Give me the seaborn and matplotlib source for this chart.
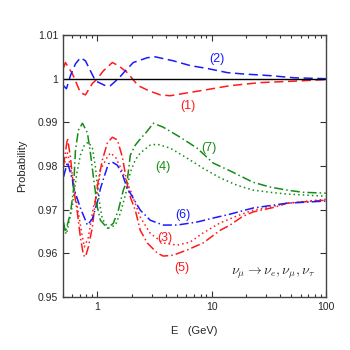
import numpy as np
import pandas as pd
import matplotlib
matplotlib.use('Agg')
import matplotlib.pyplot as plt
import seaborn as sns
from matplotlib.ticker import FuncFormatter, FixedLocator

# curve (1) red dashed
e1 = [0.505, 0.525, 0.605, 0.643, 0.710, 0.786, 0.904, 1.0, 1.128, 1.352, 1.526, 1.828, 2.021, 2.281, 2.789, 3.549, 4.341, 5.637, 9.136, 14.51, 26.52, 59.3, 100]
p1 = [1.0025, 1.0037, 1.0011, 0.9995, 0.9968, 0.9963, 0.9989, 1.0, 1.0018, 1.0037, 1.0030, 1.0014, 1.0, 0.9984, 0.9973, 0.9963, 0.9961, 0.9966, 0.9975, 0.9984, 0.9991, 0.9995, 0.9998]

# curve (2) blue dashed
e2 = [0.505, 0.536, 0.581, 0.643, 0.710, 0.786, 0.869, 0.961, 1.175, 1.299, 1.526, 1.756, 2.063, 2.733, 3.211, 4.611, 6.49, 9.32, 13.66, 18.47, 32.44, 53.6, 100]
p2 = [0.9984, 0.9977, 1.0007, 1.0034, 1.0048, 1.0041, 1.0018, 0.9995, 0.9984, 0.9984, 1.0, 1.0018, 1.0037, 1.0048, 1.0050, 1.0041, 1.0030, 1.0023, 1.0014, 1.0011, 1.0007, 1.0002, 1.0]

# curve (3) red dotted
e3 = [0.505, 0.547, 0.605, 0.669, 0.740, 0.770, 0.834, 0.923, 1.02, 1.062, 1.223, 1.299, 1.436, 1.588, 1.828, 1.942, 2.374, 2.904, 3.771, 4.997, 6.49, 8.43, 11.87, 16.7, 23.04, 32.44, 45.63, 100]
p3 = [0.9798, 0.9830, 0.9775, 0.9706, 0.9637, 0.9615, 0.9637, 0.9706, 0.9752, 0.9791, 0.9821, 0.9830, 0.9821, 0.9798, 0.9761, 0.9745, 0.9683, 0.9646, 0.9624, 0.9619, 0.9626, 0.9647, 0.9670, 0.9686, 0.9699, 0.9706, 0.9715, 0.9724]

# curve (4) green dotted
e4 = [0.505, 0.536, 0.605, 0.656, 0.710, 0.770, 0.834, 0.904, 0.961, 1.02, 1.106, 1.248, 1.436, 1.588, 1.756, 1.942, 2.147, 2.374, 2.904, 3.342, 4.341, 6.109, 8.43, 11.87, 16.7, 23.04, 32.44, 45.63, 62.97, 100]
p4 = [0.9658, 0.9644, 0.9711, 0.9779, 0.9825, 0.9848, 0.9855, 0.9841, 0.9798, 0.9731, 0.9679, 0.9658, 0.9665, 0.9692, 0.9733, 0.9786, 0.9814, 0.9830, 0.9848, 0.9850, 0.9841, 0.9818, 0.9795, 0.9773, 0.9756, 0.9745, 0.9740, 0.9736, 0.9734, 0.9731]

# curve (5) red dash-dot
e5 = [0.505, 0.547, 0.581, 0.617, 0.669, 0.710, 0.755, 0.786, 0.834, 0.904, 0.961, 1.02, 1.106, 1.223, 1.352, 1.495, 1.653, 1.828, 1.942, 2.147, 2.374, 2.733, 3.342, 3.771, 4.611, 6.109, 8.43, 11.87, 14.51, 18.47, 23.04, 35.86, 45.63, 100]
p5 = [0.9800, 0.9864, 0.9821, 0.9752, 0.9692, 0.9637, 0.9596, 0.9592, 0.9615, 0.9660, 0.9722, 0.9768, 0.9814, 0.9853, 0.9866, 0.9860, 0.9821, 0.9757, 0.9729, 0.9699, 0.9653, 0.9624, 0.9601, 0.9594, 0.9596, 0.9608, 0.9624, 0.9653, 0.9665, 0.9684, 0.9695, 0.9706, 0.9715, 0.9722]

# curve (6) blue dash-dot
e6 = [0.505, 0.547, 0.605, 0.617, 0.710, 0.818, 0.904, 1.0, 1.062, 1.128, 1.248, 1.352, 1.495, 1.653, 1.828, 1.942, 2.374, 2.904, 3.771, 4.997, 7.471, 10.31, 14.51, 23.04, 45.63, 100]
p6 = [0.9775, 0.9809, 0.9768, 0.9752, 0.9704, 0.9665, 0.9679, 0.9718, 0.9748, 0.9770, 0.9805, 0.9809, 0.9802, 0.9782, 0.9748, 0.9738, 0.9699, 0.9676, 0.9665, 0.9665, 0.9672, 0.9681, 0.9690, 0.9704, 0.9715, 0.9720]

# curve (7) green dash-dot
e7 = [0.505, 0.525, 0.581, 0.617, 0.643, 0.682, 0.740, 0.818, 0.869, 0.923, 1.0, 1.062, 1.223, 1.379, 1.526, 1.687, 1.828, 1.942, 2.147, 2.374, 2.733, 3.084, 3.771, 5.307, 7.471, 10.31, 14.51, 23.04, 32.44, 45.63, 62.97, 100]
p7 = [0.9672, 0.9649, 0.9692, 0.9745, 0.9837, 0.9882, 0.9898, 0.9876, 0.9830, 0.9775, 0.9706, 0.9676, 0.9658, 0.9669, 0.9699, 0.9745, 0.9768, 0.9825, 0.9848, 0.9862, 0.9880, 0.9898, 0.9889, 0.9866, 0.9841, 0.9807, 0.9789, 0.9763, 0.9752, 0.9745, 0.9740, 0.9738]

labels = ['(1)', '(2)', '(3)', '(4)', '(5)', '(6)', '(7)']
label_colors = ['red', 'blue', 'red', 'green', 'red', 'blue', 'green']
label_e = [6.24, 11.2, 3.92, 3.77, 5.53, 5.64, 9.5]
label_p = [0.9938, 1.0046, 0.9635, 0.9798, 0.9566, 0.9688, 0.9841]

yticks = [0.95, 0.96, 0.97, 0.98, 0.99, 1.0, 1.01]
xticks = [1, 10, 100]

palette = {'red': '#ff1a1a', 'blue': '#1a1aff', 'green': '#158c15'}

sns.set_style('ticks')
plt.rcParams['font.family'] = ['Liberation Sans', 'DejaVu Sans']
plt.rcParams['mathtext.fontset'] = 'cm'

fig = plt.figure(figsize=(3.5, 3.5), dpi=100)
ax = fig.add_axes([0.18, 0.151, 0.751, 0.749])

dashed = (6, 3)
dashdot = (6, 2, 1, 2)
dotted = (1, 2)
series = [
    (e1, p1, 'red', dashed),
    (e2, p2, 'blue', dashed),
    (e3, p3, 'red', dotted),
    (e4, p4, 'green', dotted),
    (e5, p5, 'red', dashdot),
    (e6, p6, 'blue', dashdot),
    (e7, p7, 'green', dashdot),
]
for e, p, c, d in series:
    df = pd.DataFrame({'E': e, 'P': p})
    sns.lineplot(data=df, x='E', y='P', ax=ax, color=palette[c], lw=1.1,
                 estimator=None, sort=False)
    ax.lines[-1].set_dashes(d)

ax.axhline(1.0, color='black', lw=1.0)

for t, c, xe, yp in zip(labels, label_colors, label_e, label_p):
    ax.text(xe, yp, t, color=palette[c], fontsize=9, ha='center', va='center')

ax.text(0.80, 0.092, r'$\nu_\mu \rightarrow \nu_e, \nu_\mu, \nu_\tau$',
        transform=ax.transAxes, ha='center', va='center', fontsize=10)

ax.set_xscale('log')
ax.set_xlim(0.5, 100)
ax.set_ylim(0.95, 1.01)
ax.xaxis.set_major_locator(FixedLocator(xticks))
ax.xaxis.set_major_formatter(FuncFormatter(lambda v, pos: '%g' % v))
ax.yaxis.set_major_locator(FixedLocator(yticks))
ax.yaxis.set_major_formatter(FuncFormatter(lambda v, pos: '%g' % v))
ax.tick_params(which='both', direction='in', top=True, right=True,
               labelsize=7.5, color='#333333', width=0.8)
ax.tick_params(which='major', length=4)
ax.tick_params(which='minor', length=2)
for s in ax.spines.values():
    s.set_color('#444444')
    s.set_linewidth(1.0)

ax.set_xlabel('E   (GeV)', fontsize=8, labelpad=10)
ax.set_ylabel('Probability', fontsize=8, labelpad=8)

fig.savefig('out.png', dpi=100)
